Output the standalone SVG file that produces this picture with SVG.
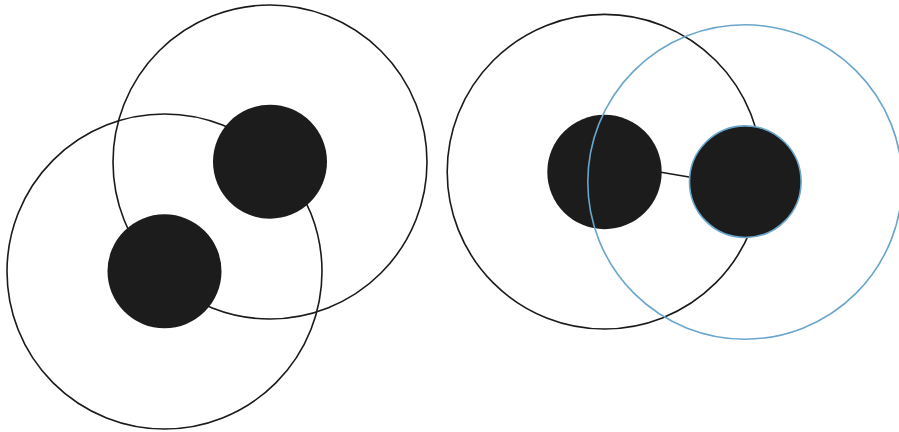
<svg xmlns="http://www.w3.org/2000/svg" width="899" height="432" viewBox="0 0 899 432">
<style>
.ring{fill:none;stroke:#1a1a1a;stroke-width:1.6}
.ring-blue{fill:none;stroke:#6aa6cc;stroke-width:1.6}
.node{fill:#1c1c1c}
.node-blue{fill:#1c1c1c;stroke:#6aa6cc;stroke-width:1.6}
.edge{stroke:#1a1a1a;stroke-width:1.6;fill:none}
</style>
<rect width="899" height="432" fill="#ffffff"/>
<g id="left-ranges">
<circle class="ring" cx="270" cy="162" r="157"/>
<circle class="ring" cx="164.5" cy="271.5" r="157.5"/>
</g>
<g id="node-a"><circle class="node" cx="270" cy="161.7" r="57"/></g>
<g id="node-b"><circle class="node" cx="164.5" cy="271.3" r="57"/></g>
<g id="right-range-black"><circle class="ring" cx="604.5" cy="171.7" r="157.3"/></g>
<g id="connectors">
<line class="edge" x1="655" y1="171.3" x2="695" y2="178"/>
</g>
<g id="node-c"><circle class="node" cx="604.5" cy="172" r="57.2"/></g>
<g id="node-d"><circle class="node-blue" cx="745.3" cy="181.7" r="55.8"/></g>
<g id="right-range-blue"><circle class="ring-blue" cx="745" cy="182" r="157.2"/></g>
</svg>
